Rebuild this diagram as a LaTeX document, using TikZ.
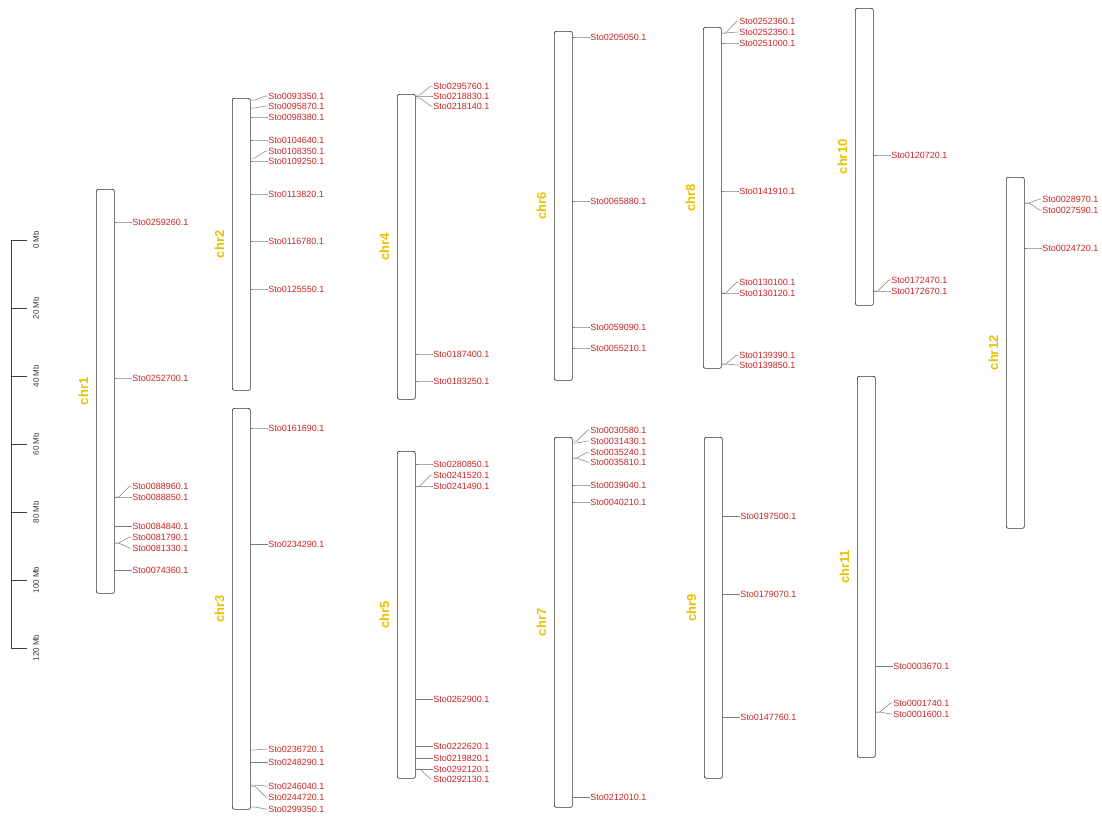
\documentclass[tikz,border=0pt]{standalone}
\usepackage{fontspec}
\setmainfont{Liberation Sans}
\usetikzlibrary{calc}
\definecolor{mkred}{RGB}{200,35,35}
\definecolor{chryel}{RGB}{232,192,0}
\definecolor{conngray}{RGB}{125,125,125}
\tikzset{
  chrbox/.style={draw=black!80, line width=0.7pt, rounded corners=2pt, minimum width=18pt, inner sep=0pt, anchor=north west},
  chrlab/.style={text=chryel, font=\fontsize{13}{13}\selectfont\bfseries, rotate=90, inner sep=0pt},
  mk/.style={text=mkred, font=\fontsize{9}{9}\selectfont, anchor=west, inner sep=0.5pt},
  conn/.style={draw=conngray, line width=0.5pt},
  scaleline/.style={draw=black!75, line width=0.8pt},
  sclab/.style={font=\fontsize{8}{8}\selectfont, rotate=90, text=black!80, inner sep=0pt}
}
\newcommand\chromo[5]{%
  \pgfmathsetmacro\chh{#4-#3}%
  \node[chrbox, minimum height=\chh pt] (#1) at (#2,#3) {};
  \node[chrlab] (#1lab) at ($(#1.west)+(-12.5,0)$) {#1};
  \foreach \p/\t/\n [count=\i] in {#5} {
    \coordinate (#1p\i) at ($(#1.north east)+(0,\p-#3)$);
    \node[mk] (#1t\i) at ($(#1.north east)+(17,\t-#3)$) {\n};
    \draw[conn] (#1p\i) -- ++(4,0) -- ($(#1t\i.west)+(-2,0)$) -- (#1t\i.west);
  }
}
\begin{document}
\begin{tikzpicture}[x=1pt,y=-1pt]
\useasboundingbox (0,0) rectangle (1102,817);
% scale bar
\coordinate (s0) at (11,240);
\coordinate (s1) at (11,648);
\draw[scaleline] (s0) -- (s1);
\foreach \v [count=\k from 0] in {0,20,40,60,80,100,120} {
  \coordinate (tk\k) at (11,240+68*\k);
  \draw[scaleline] (tk\k) -- ++(16,0);
  \node[sclab] (tl\k) at (36,240+68*\k) {\v\ Mb};
}
\chromo{chr1}{96}{189}{593}{222/222/Sto0259260.1, 378/378/Sto0252700.1, 497/486/Sto0088960.1, 497/497/Sto0088850.1, 526/526/Sto0084840.1, 543/537/Sto0081790.1, 543/548/Sto0081330.1, 570/570/Sto0074360.1}
\chromo{chr2}{232}{98}{390}{100/96/Sto0093350.1, 108/106/Sto0095870.1, 117/117/Sto0098380.1, 140/140/Sto0104640.1, 158/151/Sto0108350.1, 161/161/Sto0109250.1, 194/194/Sto0113820.1, 241/241/Sto0116780.1, 289/289/Sto0125550.1}
\chromo{chr3}{232}{408}{809}{428/428/Sto0161690.1, 544/544/Sto0234290.1, 750/749/Sto0236720.1, 762/762/Sto0248290.1, 785/786/Sto0246040.1, 786/797/Sto0244720.1, 807/809/Sto0299350.1}
\chromo{chr4}{397}{94}{399}{95/86/Sto0295760.1, 96/96/Sto0218830.1, 98/106/Sto0218140.1, 354/354/Sto0187400.1, 381/381/Sto0183250.1}
\chromo{chr5}{397}{451}{778}{464/464/Sto0280850.1, 486/475/Sto0241520.1, 486/486/Sto0241490.1, 699/699/Sto0262900.1, 746/746/Sto0222620.1, 758/758/Sto0219820.1, 769/769/Sto0292120.1, 769/779/Sto0292130.1}
\chromo{chr6}{554}{31}{380}{37/37/Sto0205050.1, 201/201/Sto0065880.1, 327/327/Sto0059090.1, 348/348/Sto0055210.1}
\chromo{chr7}{554}{437}{807}{441/430/Sto0030580.1, 443/441/Sto0031430.1, 458/452/Sto0035240.1, 458/462/Sto0035810.1, 485/485/Sto0039040.1, 502/502/Sto0040210.1, 797/797/Sto0212010.1}
\chromo{chr8}{703}{27}{368}{33/21/Sto0252360.1, 33/32/Sto0252350.1, 43/43/Sto0251000.1, 191/191/Sto0141910.1, 293/282/Sto0130100.1, 293/293/Sto0130120.1, 364/355/Sto0139390.1, 364/365/Sto0139850.1}
\chromo{chr9}{704}{437}{778}{516/516/Sto0197500.1, 594/594/Sto0179070.1, 717/717/Sto0147760.1}
\chromo{chr10}{855}{8}{305}{155/155/Sto0120720.1, 291/280/Sto0172470.1, 291/291/Sto0172670.1}
\chromo{chr11}{857}{376}{757}{666/666/Sto0003670.1, 712/703/Sto0001740.1, 712/714/Sto0001600.1}
\chromo{chr12}{1006}{177}{528}{203/199/Sto0028970.1, 203/210/Sto0027590.1, 248/248/Sto0024720.1}
\end{tikzpicture}
\end{document}
